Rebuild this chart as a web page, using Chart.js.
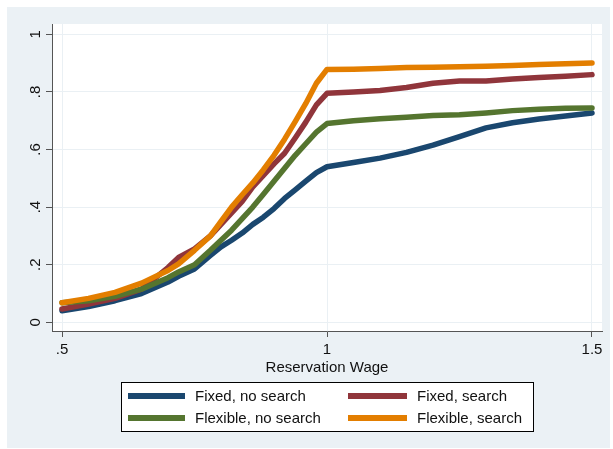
<!DOCTYPE html>
<html><head><meta charset="utf-8">
<script src="https://cdn.jsdelivr.net/npm/chart.js@4"></script>
<style>html,body{margin:0;padding:0;background:#fff}#wrap{width:613px;height:449px;position:relative}</style>
</head><body><div id="wrap"><canvas id="c" width="613" height="449"></canvas></div>
<script>
const wage = [0.5,0.55,0.6,0.65,0.7,0.72,0.75,0.78,0.8,0.82,0.84,0.86,0.88,0.9,0.92,0.94,0.96,0.98,1.0,1.05,1.1,1.15,1.2,1.25,1.3,1.35,1.4,1.45,1.5];
const fixedNoSearch = [0.04,0.055,0.075,0.10,0.14,0.16,0.185,0.232,0.262,0.285,0.31,0.34,0.365,0.395,0.43,0.46,0.49,0.52,0.54,0.555,0.57,0.59,0.615,0.645,0.675,0.693,0.706,0.716,0.727];
const fixedSearch = [0.046,0.063,0.083,0.115,0.19,0.225,0.255,0.30,0.34,0.38,0.42,0.47,0.51,0.55,0.587,0.64,0.695,0.755,0.795,0.80,0.805,0.815,0.83,0.838,0.838,0.845,0.85,0.854,0.86];
const flexNoSearch = [0.068,0.075,0.09,0.115,0.155,0.175,0.20,0.25,0.285,0.32,0.36,0.40,0.445,0.49,0.535,0.58,0.62,0.66,0.69,0.70,0.707,0.712,0.718,0.721,0.727,0.735,0.74,0.743,0.744];
const flexSearch = [0.068,0.083,0.104,0.136,0.18,0.203,0.25,0.30,0.35,0.40,0.443,0.484,0.53,0.58,0.636,0.697,0.76,0.83,0.878,0.879,0.881,0.885,0.886,0.887,0.889,0.892,0.895,0.898,0.90];
const seriesNames = ['Fixed, no search','Fixed, search','Flexible, no search','Flexible, search'];
const xTicks = [0.5,1,1.5];
const xTickLabels = ['.5','1','1.5'];
const yTicks = [0,0.2,0.4,0.6,0.8,1];
const yTickLabels = ['0','.2','.4','.6','.8','1'];
const xTitle = 'Reservation Wage';

const colors = ['#1A476F','#90353B','#55752F','#E37E00'];
const BG = '#EBF1F5';
const GRID = '#EAF0F4';
const TEXT = '#111';
const FONT = '"Liberation Sans", Arial, sans-serif';

const series = [fixedNoSearch, fixedSearch, flexNoSearch, flexSearch];
const datasets = series.map((vals, i) => ({
  label: seriesNames[i],
  data: vals.map((v, j) => ({x: wage[j], y: v})),
  borderColor: colors[i],
  backgroundColor: colors[i],
  borderWidth: 5.5,
  pointRadius: 0,
  tension: 0,
  fill: false,
  borderCapStyle: 'round',
  borderJoinStyle: 'round',
  order: 3 - i
}));

const bgPlugin = {
  id: 'bgPlugin',
  beforeDraw(chart) {
    const ctx = chart.ctx, a = chart.chartArea;
    ctx.save();
    ctx.fillStyle = '#fff';
    ctx.fillRect(0, 0, chart.width, chart.height);
    ctx.fillStyle = BG;
    ctx.fillRect(7, 7, 603, 441);
    ctx.fillStyle = '#fff';
    ctx.fillRect(a.left, a.top, a.right - a.left, a.bottom - a.top);
    ctx.restore();
  }
};

const labelPlugin = {
  id: 'labelPlugin',
  afterDraw(chart) {
    const ctx = chart.ctx;
    const ys = chart.scales.y;
    ctx.save();
    ctx.fillStyle = TEXT;
    ctx.font = '15px ' + FONT;
    ctx.textAlign = 'center';
    ctx.textBaseline = 'middle';
    yTicks.forEach((v, i) => {
      const py = ys.getPixelForValue(v);
      ctx.save();
      ctx.translate(36, py);
      ctx.rotate(-Math.PI / 2);
      ctx.fillText(yTickLabels[i], 0, 0);
      ctx.restore();
    });
    // legend
    const bx = 121, by = 382, bw = 412, bh = 49;
    ctx.fillStyle = '#fff';
    ctx.fillRect(bx, by, bw, bh);
    ctx.strokeStyle = '#000';
    ctx.lineWidth = 1;
    ctx.strokeRect(bx + 0.5, by + 0.5, bw, bh);
    const cols = [[128, 185, 195], [348, 407, 417]];
    const rows = [396, 418];
    const pos = [[0,0],[1,0],[0,1],[1,1]];
    ctx.textAlign = 'left';
    ctx.textBaseline = 'middle';
    ctx.font = '15px ' + FONT;
    chart.data.datasets.forEach((d, i) => {
      const [c, r] = pos[i];
      const y = rows[r];
      ctx.strokeStyle = d.borderColor;
      ctx.lineWidth = 6;
      ctx.lineCap = 'butt';
      ctx.beginPath();
      ctx.moveTo(cols[c][0], y);
      ctx.lineTo(cols[c][1], y);
      ctx.stroke();
      ctx.fillStyle = TEXT;
      ctx.fillText(d.label, cols[c][2], y + 1);
    });
    ctx.restore();
  }
};

new Chart(document.getElementById('c'), {
  type: 'line',
  data: { datasets },
  options: {
    responsive: false,
    animation: false,
    devicePixelRatio: 1,
    layout: { padding: { left: 0, top: 24, right: 11, bottom: 72 } },
    plugins: { legend: { display: false }, tooltip: { enabled: false } },
    scales: {
      x: {
        type: 'linear',
        min: 0.48113, max: 1.51887,
        afterBuildTicks(s) { s.ticks = xTicks.map(v => ({ value: v })); },
        afterFit(s) { s.height = 46; },
        ticks: {
          callback: (v, i) => xTickLabels[i],
          font: { family: FONT, size: 15 }, color: TEXT, padding: 4, maxRotation: 0, autoSkip: false
        },
        grid: { color: GRID, lineWidth: 1, tickColor: '#555', tickLength: 6, drawTicks: true },
        border: { color: '#555', width: 1 },
        title: { display: true, text: xTitle, font: { family: FONT, size: 15 }, color: TEXT, padding: { top: 0, bottom: 0 } }
      },
      y: {
        type: 'linear',
        min: -0.0302, max: 1.0358,
        afterBuildTicks(s) { s.ticks = yTicks.map(v => ({ value: v })); },
        afterFit(s) { s.width = 52; },
        ticks: { display: false },
        grid: { color: GRID, lineWidth: 1, tickColor: '#555', tickLength: 6, drawTicks: true },
        border: { color: '#555', width: 1 }
      }
    }
  },
  plugins: [bgPlugin, labelPlugin]
});
</script></body></html>
